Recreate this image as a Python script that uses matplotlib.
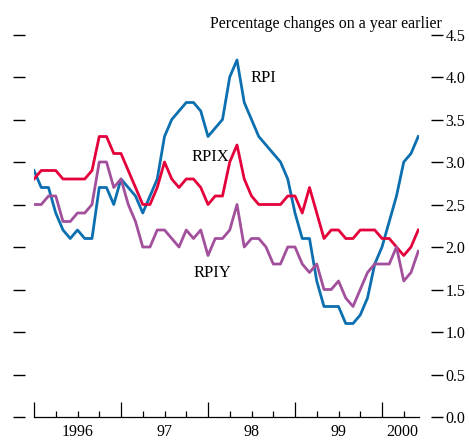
import numpy as np
import matplotlib
matplotlib.use("Agg")
import matplotlib.pyplot as plt
from matplotlib.ticker import MultipleLocator

# Monthly inflation, Jan 1996 to Jun 2000 (% change on a year earlier)
rpi = [2.9, 2.7, 2.7, 2.4, 2.2, 2.1, 2.2, 2.1, 2.1, 2.7, 2.7, 2.5,
       2.8, 2.7, 2.6, 2.4, 2.6, 2.8, 3.3, 3.5, 3.6, 3.7, 3.7, 3.6,
       3.3, 3.4, 3.5, 4.0, 4.2, 3.7, 3.5, 3.3, 3.2, 3.1, 3.0, 2.8,
       2.4, 2.1, 2.1, 1.6, 1.3, 1.3, 1.3, 1.1, 1.1, 1.2, 1.4, 1.8,
       2.0, 2.3, 2.6, 3.0, 3.1, 3.3]
rpix = [2.8, 2.9, 2.9, 2.9, 2.8, 2.8, 2.8, 2.8, 2.9, 3.3, 3.3, 3.1,
        3.1, 2.9, 2.7, 2.5, 2.5, 2.7, 3.0, 2.8, 2.7, 2.8, 2.8, 2.7,
        2.5, 2.6, 2.6, 3.0, 3.2, 2.8, 2.6, 2.5, 2.5, 2.5, 2.5, 2.6,
        2.6, 2.4, 2.7, 2.4, 2.1, 2.2, 2.2, 2.1, 2.1, 2.2, 2.2, 2.2,
        2.1, 2.1, 2.0, 1.9, 2.0, 2.2]
rpiy = [2.5, 2.5, 2.6, 2.6, 2.3, 2.3, 2.4, 2.4, 2.5, 3.0, 3.0, 2.7,
        2.8, 2.5, 2.3, 2.0, 2.0, 2.2, 2.2, 2.1, 2.0, 2.2, 2.1, 2.2,
        1.9, 2.1, 2.1, 2.2, 2.5, 2.0, 2.1, 2.1, 2.0, 1.8, 1.8, 2.0,
        2.0, 1.8, 1.7, 1.8, 1.5, 1.5, 1.6, 1.4, 1.3, 1.5, 1.7, 1.8,
        1.8, 1.8, 2.0, 1.6, 1.7, 1.95]

years = [1996, 1997, 1998, 1999, 2000]
year_labels = ["1996", "97", "98", "99", "2000"]
year_label_pos = [1996.5, 1997.5, 1998.5, 1999.5, 2000.23]

dates = 1996 + np.arange(len(rpi)) / 12.0

plt.rcParams['font.family'] = 'Liberation Serif'
plt.rcParams['font.size'] = 11.5

fig = plt.figure(figsize=(4.69, 4.40), dpi=100)
ax = fig.add_axes([34 / 469, 23 / 440, (419 - 34) / 469, (417 - 34.5) / 440])

ax.plot(dates, rpi, color='#0b6fb0', lw=2.0, solid_joinstyle='round')
ax.plot(dates, rpix, color='#e4003b', lw=2.0, solid_joinstyle='round')
ax.plot(dates, rpiy, color='#a24f9c', lw=2.0, solid_joinstyle='round')

ax.set_xlim(1996, 2000 + 37 / 87)
ax.set_ylim(0, 4.5)

# series names next to the lines
ax.text(1998.483, 3.99, "RPI", va='center', fontsize=12)
ax.text(1997.813, 3.06, "RPIX", va='center', fontsize=12)
ax.text(1997.839, 1.69, "RPIY", va='center', fontsize=12)

# y ticks as floating dashes on both sides, labels on the right only
for side in ['left', 'right', 'top']:
    ax.spines[side].set_visible(False)
ax.spines['left'].set_position(('outward', 6.5))
ax.spines['right'].set_position(('outward', 8.6))
ax.yaxis.set_major_locator(MultipleLocator(0.5))
ax.yaxis.set_major_formatter(matplotlib.ticker.FormatStrFormatter('%.1f'))
ax.tick_params(axis='y', left=True, right=True, labelleft=False, labelright=True,
               direction='out', length=8.3, width=1.0, pad=2)

# x axis: year ticks plus quarterly minor ticks, pointing up
ax.spines['bottom'].set_linewidth(0.9)
ax.set_xticks(years)
ax.set_xticklabels([])
ax.xaxis.set_minor_locator(MultipleLocator(0.25))
ax.tick_params(axis='x', which='major', direction='in', length=11, width=0.9)
ax.tick_params(axis='x', which='minor', direction='in', length=4.0, width=0.9)
for pos, lab in zip(year_label_pos, year_labels):
    ax.text(pos, -0.019, lab, ha='center', va='top',
            transform=ax.get_xaxis_transform(), fontsize=11.5)

fig.text(442 / 469, 1 - 28 / 440, "Percentage changes on a year earlier",
         ha='right', va='baseline', fontsize=11.5)

plt.savefig("out.png", dpi=100)
